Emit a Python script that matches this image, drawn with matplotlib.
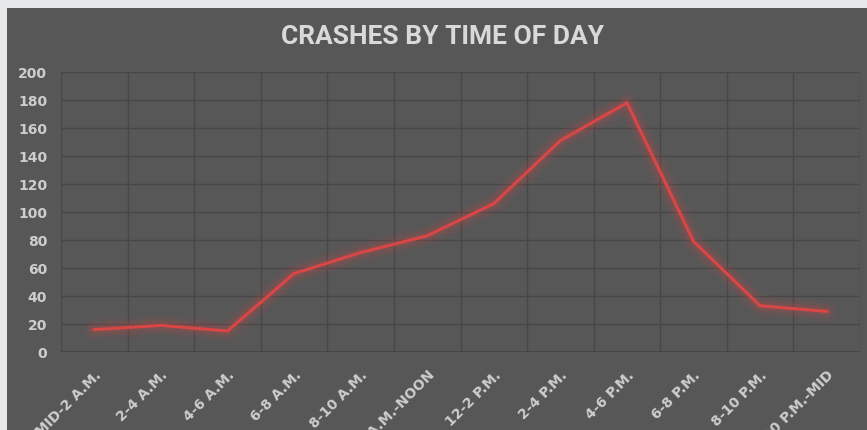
import matplotlib
matplotlib.use('Agg')
from matplotlib import pyplot as plt
from matplotlib.patches import Rectangle

# crashes per two-hour slot
slots = ['MID-2 A.M.', '2-4 A.M.', '4-6 A.M.', '6-8 A.M.', '8-10 A.M.', '10 A.M.-NOON',
         '12-2 P.M.', '2-4 P.M.', '4-6 P.M.', '6-8 P.M.', '8-10 P.M.', '10 P.M.-MID']
crashes = [16, 19, 15, 56, 71, 83, 106, 151, 178, 79, 33, 29]
yticks = [0, 20, 40, 60, 80, 100, 120, 140, 160, 180, 200]

panel = '#575757'
grid_col = '#474747'
text_col = '#cdcdcd'
red = '#d94646'

W, H = 867, 431
fig = plt.figure(figsize=(W / 100, H / 100), dpi=100, facecolor='#e6e7e9')
fig.patches.append(Rectangle((7 / W, 0), 1, 1 - 9 / H, transform=fig.transFigure,
                             facecolor=panel, edgecolor='none', zorder=-5))

ax = fig.add_axes([61 / W, 1 - 353 / H, (860 - 61) / W, (353 - 73) / H])
ax.set_facecolor(panel)
x = list(range(len(slots)))

# soft glow under the line
for lw, a in [(16, 0.04), (12, 0.06), (9, 0.08), (6, 0.12)]:
    ax.plot(x, crashes, color=red, lw=lw, alpha=a, solid_capstyle='round',
            solid_joinstyle='round', zorder=3)
ax.plot(x, crashes, color=red, lw=2.2, zorder=4, solid_joinstyle='miter')

ax.set_xlim(-0.5, len(slots) - 0.5)
ax.set_ylim(0, 200)
ax.set_yticks(yticks)
ax.set_xticks(x)
ax.set_xticks([i - 0.5 for i in range(len(slots) + 1)], minor=True)
ax.set_xticklabels(slots, rotation=45, ha='right', va='top', rotation_mode='anchor',
                   fontsize=10, fontweight='bold', color=text_col)
ax.tick_params(axis='x', which='both', length=0, pad=11)
ax.tick_params(axis='y', length=0, pad=10, labelsize=10, labelcolor=text_col)
for t in ax.get_yticklabels():
    t.set_fontweight('bold')

ax.grid(axis='y', which='major', color=grid_col, lw=1)
ax.grid(axis='x', which='minor', color=grid_col, lw=1)
for s in ax.spines.values():
    s.set_visible(False)
ax.axhline(0, color='#444444', lw=1.2, zorder=2)

fig.text(443 / W, 1 - 37 / H, 'CRASHES BY TIME OF DAY', ha='center', va='center',
         fontsize=19, fontweight='bold', family=['Roboto', 'DejaVu Sans'], color='#d9d9d9')

fig.savefig('out.png', dpi=100, facecolor=fig.get_facecolor())
